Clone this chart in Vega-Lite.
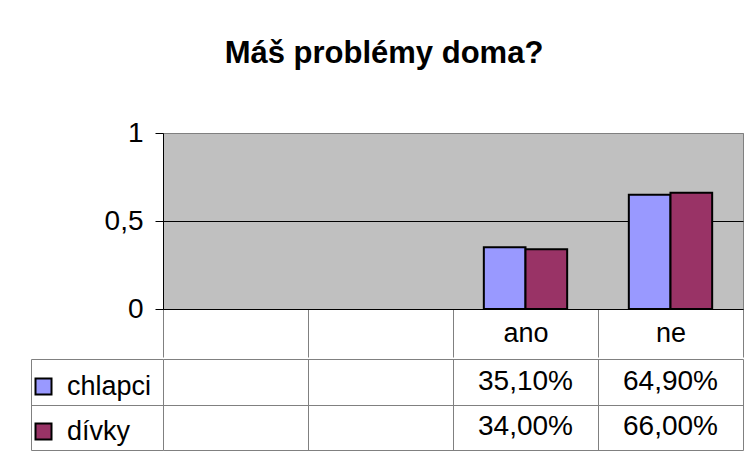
{
  "$schema": "https://vega.github.io/schema/vega-lite/v6.json",
  "background": "white",
  "padding": {"left": 30, "top": 37, "right": 6, "bottom": 10},
  "config": {
    "font": "Liberation Sans",
    "locale": {"number": {"decimal": ",", "thousands": " ", "grouping": [3], "currency": ["", " Kč"]}},
    "view": {"stroke": null},
    "concat": {"spacing": 0},
    "axis": {"labelFont": "Liberation Sans", "labelColor": "black", "title": null}
  },
  "title": {"text": "Máš problémy doma?", "fontSize": 31, "fontWeight": "bold", "font": "Liberation Sans", "color": "black", "anchor": "middle", "offset": 49, "dx": -3},
  "datasets": {
    "data": [
      {"kategorie": "ano", "pohlavi": "chlapci", "podil": 0.351},
      {"kategorie": "ano", "pohlavi": "dívky", "podil": 0.34},
      {"kategorie": "ne", "pohlavi": "chlapci", "podil": 0.649},
      {"kategorie": "ne", "pohlavi": "dívky", "podil": 0.66}
    ]
  },
  "resolve": {"scale": {"color": "independent"}},
  "vconcat": [
    {
      "width": 580,
      "height": 176,
      "data": {"name": "data"},
      "view": {"fill": "#C0C0C0", "stroke": "#808080"},
      "mark": {"type": "bar", "stroke": "black", "strokeWidth": 2},
      "encoding": {
        "x": {
          "field": "kategorie", "type": "nominal",
          "scale": {"domain": [" ", "  ", "ano", "ne"], "paddingInner": 0, "paddingOuter": 0},
          "axis": {"orient": "bottom", "tickBand": "extent", "tickSize": 48, "tickColor": "#808080", "domainColor": "black", "labelFontSize": 27, "labelAngle": 0, "labelBaseline": "middle", "labelPadding": -24}
        },
        "xOffset": {
          "field": "pohlavi", "type": "nominal",
          "scale": {"domain": ["chlapci", "dívky"], "paddingInner": 0, "paddingOuter": 0.74}
        },
        "y": {
          "field": "podil", "type": "quantitative",
          "scale": {"domain": [0, 1], "nice": false},
          "axis": {"values": [0, 0.5, 1], "format": "~g", "labelFontSize": 28, "tickSize": 8, "labelPadding": 12, "tickColor": "black", "domainColor": "black",
            "gridColor": {"condition": {"test": "datum.value === 1", "value": "#808080"}, "value": "black"}}
        },
        "color": {
          "field": "pohlavi", "type": "nominal",
          "scale": {"domain": ["chlapci", "dívky"], "range": ["#9999FF", "#993366"]},
          "legend": null
        }
      }
    },
    {
      "width": 580,
      "height": 91,
      "data": {"name": "data"},
      "layer": [
        {
          "mark": {"type": "text", "fontSize": 28, "color": "black", "baseline": "middle", "font": "Liberation Sans"},
          "encoding": {
            "x": {
              "field": "kategorie", "type": "nominal",
              "scale": {"domain": [" ", "  ", "ano", "ne"], "paddingInner": 0, "paddingOuter": 0},
              "axis": {"labels": false, "ticks": false, "domain": false, "grid": true, "tickBand": "extent", "gridColor": "#808080", "gridWidth": 1}
            },
            "y": {
              "field": "pohlavi", "type": "nominal",
              "scale": {"domain": ["chlapci", "dívky"], "paddingInner": 0, "paddingOuter": 0},
              "axis": {"labels": false, "offset": 132, "tickSize": -132, "tickBand": "extent", "tickColor": "#808080", "domainColor": "#808080", "grid": true, "gridColor": "#808080"}
            },
            "text": {"field": "podil", "type": "quantitative", "format": ".2%"}
          }
        },
        {
          "transform": [{"filter": "false"}],
          "mark": {"type": "square", "stroke": "black", "strokeWidth": 2, "filled": true, "opacity": 1},
          "encoding": {
            "y": {"field": "pohlavi", "type": "nominal"},
            "color": {
              "field": "pohlavi", "type": "nominal",
              "scale": {"domain": ["chlapci", "dívky"], "range": ["#9999FF", "#993366"]},
              "legend": {"orient": "none", "legendX": -133, "legendY": 14, "title": null, "symbolType": "square", "symbolSize": 256, "symbolStrokeWidth": 2, "symbolStrokeColor": "black", "symbolOpacity": 1, "labelFontSize": 27, "labelFont": "Liberation Sans", "labelColor": "black", "labelOffset": 10, "rowPadding": 17, "padding": 0, "labelLimit": 200}
            }
          }
        }
      ]
    }
  ]
}
